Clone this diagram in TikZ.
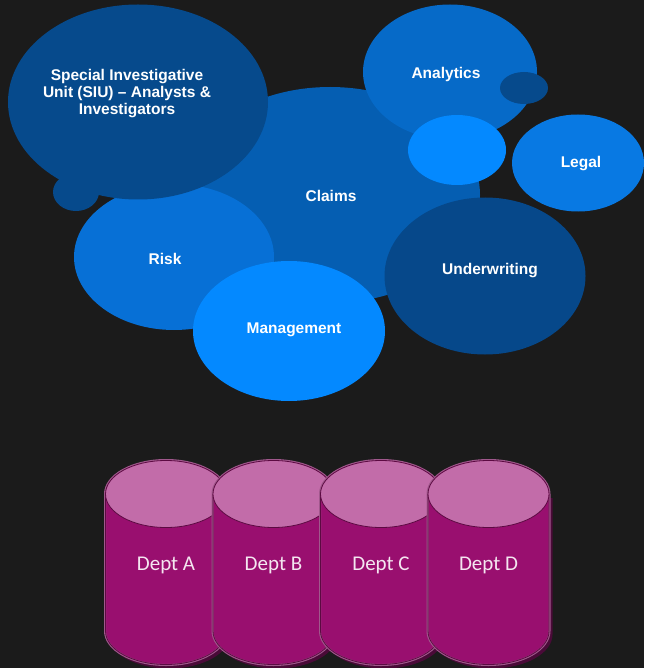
\documentclass[tikz,border=0pt]{standalone}
\usepackage{fontspec}
\setmainfont{Liberation Sans}
\newfontfamily\deptfont{Carlito}
\usetikzlibrary{shapes.geometric}
\definecolor{bg}{HTML}{1B1B1B}
\definecolor{siuc}{HTML}{064A8C}
\definecolor{claimc}{HTML}{055EB2}
\definecolor{riskc}{HTML}{0770D6}
\definecolor{lightc}{HTML}{0489FF}
\definecolor{analc}{HTML}{066AC8}
\definecolor{legalc}{HTML}{0879E3}
\definecolor{underc}{HTML}{06488A}
\definecolor{cylbody}{HTML}{990F6F}
\definecolor{cyltop}{HTML}{C26CA9}
\definecolor{cylline}{HTML}{5C0A42}
\definecolor{cylrim}{HTML}{A0588C}
\definecolor{cylshadow}{HTML}{4A0A38}
\definecolor{depttext}{HTML}{F4E6F0}
\begin{document}
\begin{tikzpicture}[x=1pt,y=-1pt,
  bubble/.style={ellipse, inner sep=0pt, outer sep=0pt, draw=none},
  lbl/.style={text=white, align=center, inner sep=0pt, font=\bfseries\fontsize{15.5}{17}\selectfont},
  deptlbl/.style={text=depttext, inner sep=0pt, font=\deptfont\fontsize{21}{24}\selectfont}]
\fill[bg] (0,0) rectangle (644,668);
\useasboundingbox (0,0) rectangle (644,668);
% bubbles
\node[bubble, fill=claimc, minimum width=300pt, minimum height=216pt] (claims) at (330,195) {};
\node[bubble, fill=riskc, minimum width=200pt, minimum height=146pt] (risk) at (174,257) {};
\node[bubble, fill=siuc, minimum width=260pt, minimum height=195pt] (siu) at (138,102) {};
\node[bubble, fill=siuc, minimum width=46pt, minimum height=38pt] (siudot) at (76,192) {};
\node[bubble, fill=analc, minimum width=174pt, minimum height=135pt] (anal) at (450,72) {};
\node[bubble, fill=siuc, minimum width=48pt, minimum height=32pt] (analdot) at (524,88) {};
\node[bubble, fill=lightc, minimum width=98pt, minimum height=70pt] (lightdot) at (457,150) {};
\node[bubble, fill=legalc, minimum width=132pt, minimum height=97pt] (legal) at (578,163) {};
\node[bubble, fill=underc, minimum width=201pt, minimum height=157pt] (under) at (485,276) {};
\node[bubble, fill=lightc, minimum width=192pt, minimum height=140pt] (mgmt) at (289,331) {};
% labels
\node[lbl] (siut) at (127,94) {Special Investigative\\Unit (SIU) – Analysts \&\\Investigators};
\node[lbl] (analt) at (446,74) {Analytics};
\node[lbl] (legalt) at (581,163.5) {Legal};
\node[lbl] (claimst) at (331,195.5) {Claims};
\node[lbl] (riskt) at (165,258.5) {Risk};
\node[lbl] (undert) at (490,270.5) {Underwriting};
\node[lbl] (mgmtt) at (294,329.5) {Management};
% department cylinders
\foreach \n/\cx/\t in {a/166/Dept A, b/273.5/Dept B, c/381/Dept C, d/488.5/Dept D} {
  \fill[cylshadow] (\cx-58,498) -- (\cx-58,634.5) arc[start angle=180,end angle=360,x radius=61pt,y radius=34pt] -- (\cx+64,498) -- cycle;
  \draw[cylrim, line width=2pt, fill=cylbody] (\cx-61,494) -- (\cx-61,631) arc[start angle=180,end angle=360,x radius=61pt,y radius=34pt] -- (\cx+61,494) arc[start angle=0,end angle=180,x radius=61pt,y radius=34pt] -- cycle;
  \draw[cylline, line width=0.8pt] (\cx-60.5,494) -- (\cx-60.5,631) arc[start angle=180,end angle=360,x radius=60.5pt,y radius=33.5pt] -- (\cx+60.5,494);
  \draw[cylline, line width=0.8pt, fill=cyltop] (\cx,494) ellipse[x radius=60.5pt, y radius=33.5pt];
  \node[deptlbl] (dept\n) at (\cx,565) {\t};
}
\end{tikzpicture}
\end{document}
